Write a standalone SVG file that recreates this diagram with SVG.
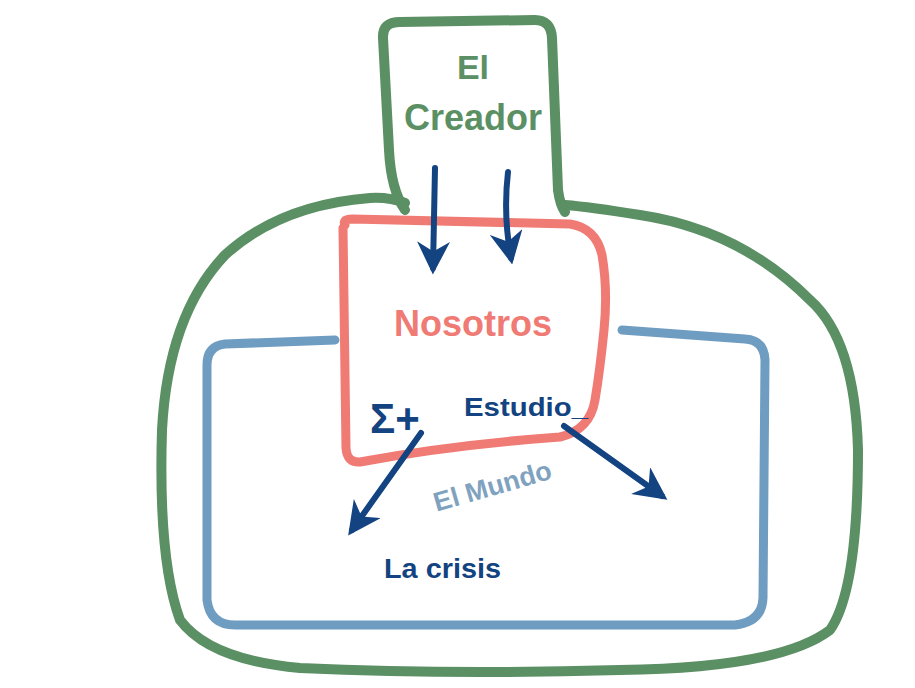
<svg xmlns="http://www.w3.org/2000/svg" width="915" height="688" viewBox="0 0 915 688">
<style>
.g{fill:none;stroke:#5b8f64;stroke-width:10;stroke-linecap:round;stroke-linejoin:round}
.b{fill:none;stroke:#6f9cc1;stroke-width:9;stroke-linecap:round;stroke-linejoin:round}
.r{fill:none;stroke:#f07a74;stroke-width:9;stroke-linecap:round;stroke-linejoin:round}
.a{fill:none;stroke:#134380;stroke-width:6;stroke-linecap:round}
.t{font-family:"Liberation Sans",Arial,sans-serif;font-weight:bold}
</style>
<defs>
<marker id="ah" viewBox="0 0 10 10" refX="8" refY="5" markerWidth="5.5" markerHeight="5.5" orient="auto" markerUnits="strokeWidth">
<path d="M0,0 L10,5 L0,10 L3,5 Z" fill="#134380"/>
</marker>
</defs>
<rect width="915" height="688" fill="#ffffff"/>
<g id="mundo-world">
<path class="b" d="M335,340 L225,344 Q207,346 207,365 L207,600 Q210,625 235,625 L735,625 Q762,622 763,598 L765,360 Q764,340 745,339 L622,330"/>
<text class="t" x="495" y="495" font-size="27" fill="#7fa2bf" text-anchor="middle" transform="rotate(-16 495 495)">El Mundo</text>
</g>
<g id="creador">
<path class="g" d="M405,210 Q391,190 389,150 L383,38 Q382,22 400,22 L535,20 Q551,20 552,38 L558,190 Q560,205 565,212"/>
<path class="g" d="M405,203 Q390,197 370,198 Q280,205 225,255 Q168,315 162,430 Q158,560 180,620 Q210,660 300,668 Q450,675 620,670 Q780,668 830,630 Q858,590 858,450 Q855,340 810,300 Q740,230 640,215 Q590,207 565,205"/>
<text class="t" x="473" y="79" font-size="34" fill="#5b8f64" text-anchor="middle">El</text>
<text class="t" x="473" y="130" font-size="36" fill="#5b8f64" text-anchor="middle">Creador</text>
</g>
<g id="nosotros">
<path class="r" d="M345,225 Q342,219 352,219 L570,224 Q596,228 602,255 Q608,290 604,330 Q600,370 595,400 Q590,430 560,437 Q450,445 360,462 Q347,463 346,448 L343,228"/>
<text class="t" x="473" y="336" font-size="36" fill="#f07a74" text-anchor="middle">Nosotros</text>
<text class="t" x="370" y="433" font-size="42" fill="#134380">Σ+</text>
<text class="t" x="464" y="416" font-size="26" fill="#134380" textLength="124" lengthAdjust="spacingAndGlyphs">Estudio_</text>
</g>
<g id="crisis">
<text class="t" x="384" y="578" font-size="27" fill="#134380" textLength="117" lengthAdjust="spacingAndGlyphs">La crisis</text>
</g>
<g id="connectors">
<path class="a" d="M435,168 L433,268" marker-end="url(#ah)"/>
<path class="a" d="M508,172 Q503,215 511,258" marker-end="url(#ah)"/>
<path class="a" d="M421,433 L352,530" marker-end="url(#ah)"/>
<path class="a" d="M564,426 L662,496" marker-end="url(#ah)"/>
</g>
</svg>
